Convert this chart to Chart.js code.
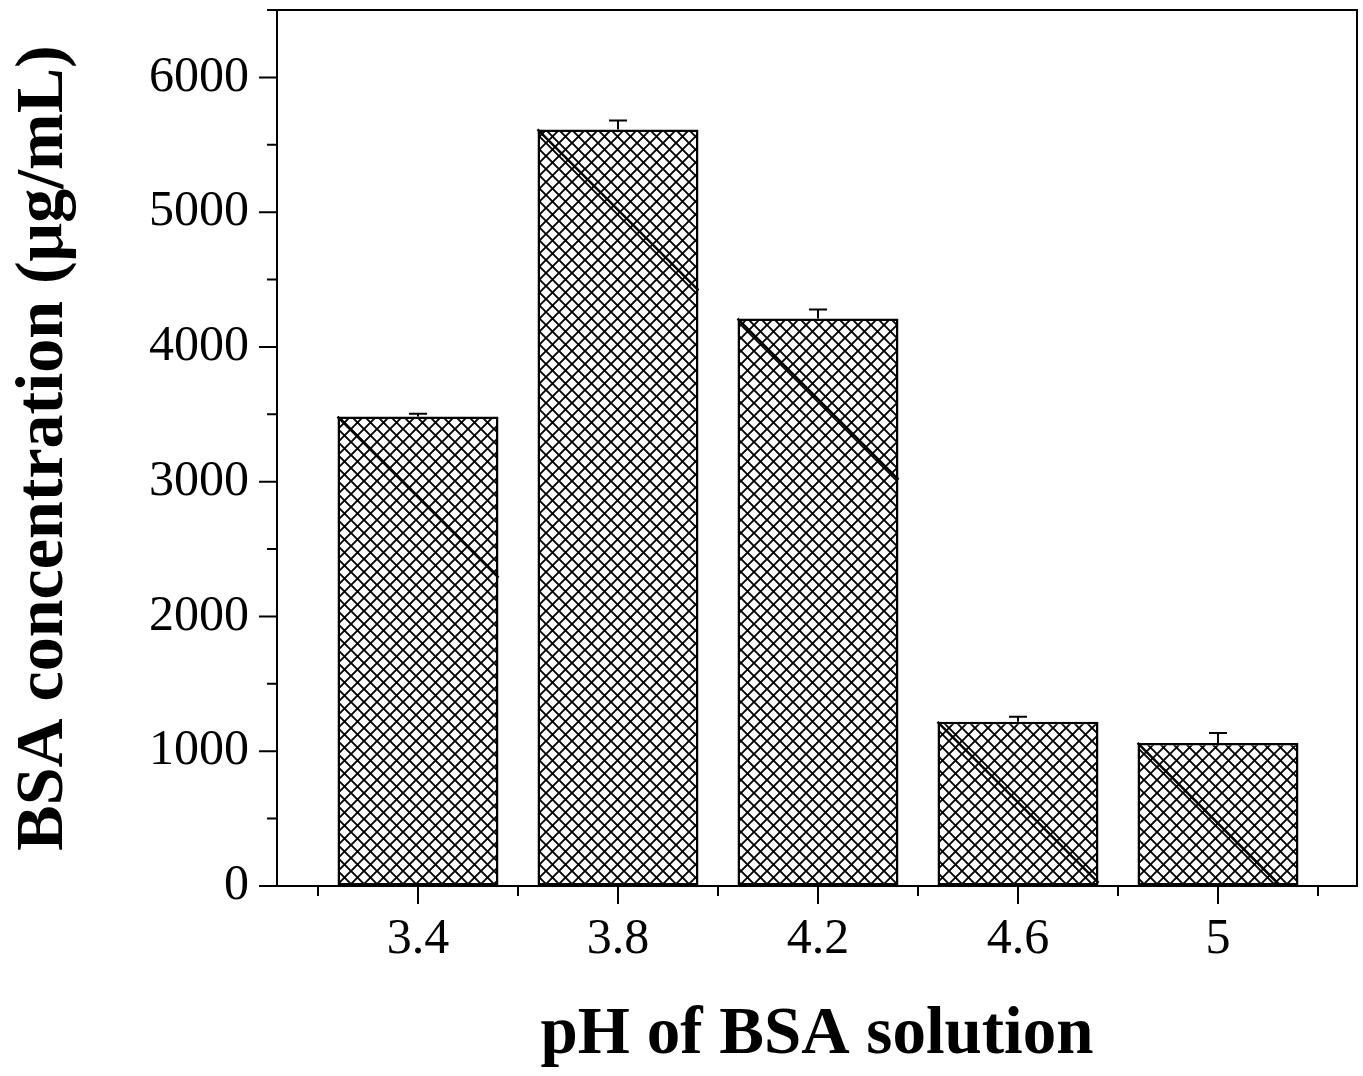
<!DOCTYPE html>
<html>
<head>
<meta charset="utf-8">
<script src="https://cdn.jsdelivr.net/npm/chart.js@4.4.1/dist/chart.umd.min.js"></script>
<style>
  body { margin: 0; background: #fff; }
</style>
</head>
<body>
<canvas id="myChart" width="1363" height="1076"></canvas>
<script>
// data
var phValues = [3.4, 3.8, 4.2, 4.6, 5];
var concentration = [3483, 5614, 4210, 1218, 1062];
var errorUp = [22, 66, 67, 37, 74];

// axis ticks
var xMajorTicks = [3.4, 3.8, 4.2, 4.6, 5];
var xMinorTicks = [3.2, 3.6, 4.0, 4.4, 4.8, 5.2];
var yMajorTicks = [0, 1000, 2000, 3000, 4000, 5000, 6000];
var yMinorTicks = [500, 1500, 2500, 3500, 4500, 5500, 6500];

var serif = "'Liberation Serif', 'Times New Roman', serif";

// cross hatch fill
function makeHatch() {
    var s = 13;
    var c = document.createElement('canvas');
    c.width = s; c.height = s;
    var g = c.getContext('2d');
    g.fillStyle = '#fff';
    g.fillRect(0, 0, s, s);
    g.strokeStyle = '#000';
    g.lineWidth = 1.9;
    g.beginPath();
    g.moveTo(-1, -1); g.lineTo(s + 1, s + 1);
    g.moveTo(s + 1, -1); g.lineTo(-1, s + 1);
    g.stroke();
    return g.createPattern(c, 'repeat');
}

// frame, tick marks, error bars
var extras = {
    id: 'extras',
    afterDatasetsDraw: function(chart) {
        var ctx = chart.ctx;
        var xs = chart.scales.x, ys = chart.scales.y;
        var meta = chart.getDatasetMeta(0);
        ctx.save();
        ctx.strokeStyle = '#000';
        ctx.lineCap = 'butt';

        // heavier diagonal inside each bar
        ctx.lineWidth = 2.5;
        meta.data.forEach(function(bar) {
            var half = bar.width / 2;
            var l = bar.x - half, r = bar.x + half;
            var h = Math.min(r - l, bar.base - bar.y);
            ctx.beginPath();
            ctx.moveTo(l, bar.y);
            ctx.lineTo(l + h, bar.y + h);
            ctx.stroke();
        });

        // error bars (upper only)
        ctx.lineWidth = 2;
        phValues.forEach(function(ph, i) {
            var x = xs.getPixelForValue(ph);
            var y0 = ys.getPixelForValue(concentration[i]);
            var y1 = ys.getPixelForValue(concentration[i] + errorUp[i]);
            ctx.beginPath();
            ctx.moveTo(x, y0); ctx.lineTo(x, y1);
            ctx.moveTo(x - 9, y1); ctx.lineTo(x + 9, y1);
            ctx.stroke();
        });

        var a = chart.chartArea;
        // frame
        ctx.lineWidth = 2;
        ctx.strokeRect(a.left, a.top, a.right - a.left, a.bottom - a.top);

        // tick marks
        ctx.beginPath();
        xMajorTicks.forEach(function(v) {
            var x = xs.getPixelForValue(v);
            ctx.moveTo(x, a.bottom); ctx.lineTo(x, a.bottom + 18);
        });
        xMinorTicks.forEach(function(v) {
            var x = xs.getPixelForValue(v);
            ctx.moveTo(x, a.bottom); ctx.lineTo(x, a.bottom + 10);
        });
        yMajorTicks.forEach(function(v) {
            var y = ys.getPixelForValue(v);
            ctx.moveTo(a.left, y); ctx.lineTo(a.left - 18, y);
        });
        yMinorTicks.forEach(function(v) {
            var y = ys.getPixelForValue(v);
            ctx.moveTo(a.left, y); ctx.lineTo(a.left - 10, y);
        });
        ctx.stroke();
        ctx.restore();
    }
};

var ctx = document.getElementById('myChart').getContext('2d');
var hatch = makeHatch();

var myChart = new Chart(ctx, {
    type: 'bar',
    data: {
        datasets: [{
            data: phValues.map(function(ph, i) { return { x: ph, y: concentration[i] }; }),
            backgroundColor: hatch,
            borderColor: '#000',
            borderWidth: 2.5,
            borderSkipped: false,
            barPercentage: 0.805,
            categoryPercentage: 1
        }]
    },
    options: {
        responsive: false,
        animation: false,
        layout: { padding: { top: 10, right: 6, left: 0, bottom: 0 } },
        plugins: { legend: { display: false }, tooltip: { enabled: false } },
        scales: {
            x: {
                type: 'linear',
                min: 3.118,
                max: 5.278,
                offset: false,
                grid: { drawOnChartArea: false, tickLength: 18, tickColor: 'transparent' },
                border: { display: false },
                afterBuildTicks: function(scale) {
                    scale.ticks = xMajorTicks.map(function(v) { return { value: v }; });
                },
                afterFit: function(scale) {
                    scale.height = 190;
                    scale.paddingLeft = 0; scale.paddingRight = 0;
                },
                ticks: {
                    autoSkip: false,
                    maxRotation: 0,
                    padding: 6,
                    color: '#000',
                    font: { family: serif, size: 50 },
                    callback: function(v) { return String(v); }
                },
                title: {
                    display: true,
                    text: 'pH of BSA solution',
                    color: '#000',
                    font: { family: serif, size: 67, weight: 'bold' },
                    padding: { top: 0, bottom: 0 }
                }
            },
            y: {
                min: 0,
                max: 6500,
                grid: { drawOnChartArea: false, tickLength: 18, tickColor: 'transparent' },
                border: { display: false },
                afterBuildTicks: function(scale) {
                    scale.ticks = yMajorTicks.map(function(v) { return { value: v }; });
                },
                afterFit: function(scale) {
                    scale.width = 277;
                    scale.paddingTop = 0; scale.paddingBottom = 0;
                },
                ticks: {
                    autoSkip: false,
                    padding: 10,
                    color: '#000',
                    font: { family: serif, size: 50 },
                    callback: function(v) { return String(v); }
                },
                title: {
                    display: true,
                    text: 'BSA concentration (μg/mL)',
                    color: '#000',
                    font: { family: serif, size: 68, weight: 'bold' },
                    padding: { top: 4, bottom: 0 }
                }
            }
        }
    },
    plugins: [extras]
});
</script>
</body>
</html>
